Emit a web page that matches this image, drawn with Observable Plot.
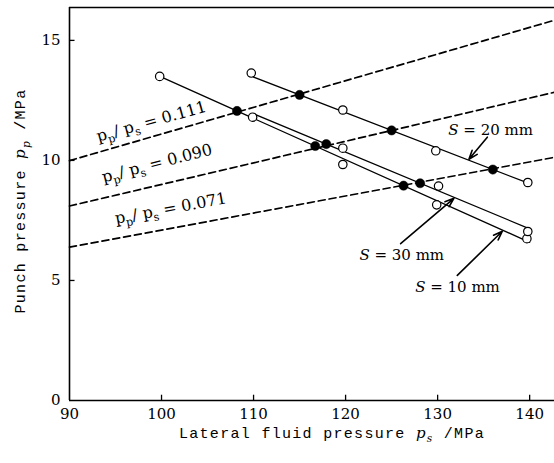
<!DOCTYPE html>
<html><head><meta charset="utf-8">
<script src="https://cdn.jsdelivr.net/npm/d3@7"></script>
<script src="https://cdn.jsdelivr.net/npm/@observablehq/plot@0.6"></script>
<style>body{margin:0;background:#fff}</style>
</head><body><div id="chart"></div>
<script>
// ---- axes ----
const xTicks = [90, 100, 110, 120, 130, 140];
const yTicks = [0, 5, 10, 15];
const xDomain = [90, 142.7];
const yDomain = [0, 16.37];
const xTitle = "Lateral fluid pressure *p*_{*s*} /MPa";
const yTitle = "Punch pressure *p*_{*p*} /MPa";

// ---- S = 20 mm ----
const s20OpenX = [109.75, 119.7, 129.8, 139.8];
const s20OpenY = [13.64, 12.10, 10.40, 9.08];
const s20FillX = [115.0, 125.0, 136.0];
const s20FillY = [12.73, 11.25, 9.62];
const s20LineX = [110, 140];
const s20LineY = [13.47, 9.03];

// ---- S = 10 mm ----
const s10OpenX = [99.8, 119.7, 129.9, 139.7];
const s10OpenY = [13.50, 9.83, 8.15, 6.74];
const s10FillX = [108.2, 116.7, 126.3];
const s10FillY = [12.06, 10.60, 8.95];
const s10LineX = [100, 140];
const s10LineY = [13.47, 6.59];

// ---- S = 30 mm ----
const s30OpenX = [109.9, 119.7, 130.1, 139.8];
const s30OpenY = [11.80, 10.51, 8.93, 7.04];
const s30FillX = [117.9, 128.1];
const s30FillY = [10.68, 9.05];
const s30LineX = [110, 140];
const s30LineY = [11.94, 7.15];

// ---- constant ratio lines p_p / p_s ----
const ratios = ["0.111", "0.090", "0.071"];
const dashX = [90, 142.7];
const dash111Y = [9.99, 15.84];
const dash090Y = [8.10, 12.84];
const dash071Y = [6.39, 10.13];
const ratioLabelX = [98.9, 99.5, 101.0];
const ratioLabelY = [11.62, 9.88, 8.0];
const ratioLabelAngle = [-15.6, -14.5, -10.5];

// ---- series labels and arrows ----
const seriesNames = ["20", "30", "10"];
const seriesLabelX = [135.76, 126.1, 132.16];
const seriesLabelY = [11.25, 6.04, 4.72];
const arrowFromX = [135.40, 125.98, 132.14];
const arrowFromY = [10.97, 6.53, 5.21];
const arrowToX = [133.40, 131.77, 137.03];
const arrowToY = [10.05, 8.42, 7.05];

// build tables
const zip = (xs, ys, extra) => xs.map((x, i) => ({x, y: ys[i], ...extra}));
const openRows = [...zip(s20OpenX, s20OpenY), ...zip(s10OpenX, s10OpenY), ...zip(s30OpenX, s30OpenY)];
const fillRows = [...zip(s20FillX, s20FillY), ...zip(s10FillX, s10FillY), ...zip(s30FillX, s30FillY)];
const lineRows = [...zip(s20LineX, s20LineY, {s: "20"}), ...zip(s10LineX, s10LineY, {s: "10"}), ...zip(s30LineX, s30LineY, {s: "30"})];
const dashRows = [...zip(dashX, dash111Y, {r: ratios[0]}), ...zip(dashX, dash090Y, {r: ratios[1]}), ...zip(dashX, dash071Y, {r: ratios[2]})];
const ratioLabelRows = ratios.map((r, i) => ({x: ratioLabelX[i], y: ratioLabelY[i], a: ratioLabelAngle[i], t: `p_{p}/ p_{s} = ${r}`}));
const seriesLabelRows = seriesNames.map((n, i) => ({x: seriesLabelX[i], y: seriesLabelY[i], t: `*S* = ${n} mm`}));
const arrowRows = seriesNames.map((n, i) => ({x1: arrowFromX[i], y1: arrowFromY[i], x2: arrowToX[i], y2: arrowToY[i]}));

const plot = Plot.plot({
  width: 554, height: 463,
  marginLeft: 69, marginRight: 0, marginTop: 7, marginBottom: 63,
  style: {fontFamily: "'DejaVu Serif', serif", fontSize: "15px", color: "black", background: "white"},
  x: {domain: xDomain, label: null},
  y: {domain: yDomain, label: null},
  marks: [
    Plot.line(dashRows, {x: "x", y: "y", z: "r", stroke: "black", strokeWidth: 1.7, strokeDasharray: "7,4"}),
    Plot.line(lineRows, {x: "x", y: "y", z: "s", stroke: "black", strokeWidth: 1.3}),
    Plot.dot(openRows, {x: "x", y: "y", r: 4.2, fill: "white", stroke: "black", strokeWidth: 1.2}),
    Plot.dot(fillRows, {x: "x", y: "y", r: 4.6, fill: "black", stroke: "black", strokeWidth: 0.5}),
    Plot.arrow(arrowRows, {x1: "x1", y1: "y1", x2: "x2", y2: "y2", stroke: "black", strokeWidth: 1.6, headLength: 9, headAngle: 40}),
    Plot.text(ratioLabelRows, {x: "x", y: "y", text: "t", rotate: "a", fontSize: 16, fill: "black"}),
    Plot.text(seriesLabelRows, {x: "x", y: "y", text: "t", fontSize: 15, fill: "black"}),
    Plot.ruleX([xDomain[0]], {stroke: "black", strokeWidth: 1.6}),
    Plot.ruleY([yDomain[0]], {stroke: "black", strokeWidth: 1.6}),
    Plot.ruleY([yDomain[1]], {stroke: "black", strokeWidth: 1.6}),
    Plot.ruleX(xTicks.slice(1), {y1: yDomain[0], y2: 0.22, stroke: "black", strokeWidth: 1.3}),
    Plot.ruleY(yTicks.slice(1), {x1: xDomain[0], x2: 90.6, stroke: "black", strokeWidth: 1.3}),
    Plot.axisX({ticks: xTicks, tickSize: 0, tickPadding: 8, label: null}),
    Plot.axisY({ticks: yTicks, tickSize: 0, tickPadding: 9, label: null}),
    Plot.text([xTitle], {frameAnchor: "bottom", textAnchor: "middle", dx: 20, dy: 37, fontFamily: "'Liberation Mono', monospace", fontSize: 15, fill: "black"}),
    Plot.text([yTitle], {frameAnchor: "left", textAnchor: "middle", rotate: -90, dx: -49, dy: -3, fontFamily: "'Liberation Mono', monospace", fontSize: 15, fill: "black"})
  ]
});
document.getElementById("chart").appendChild(plot);

// rich text: _{..} subscript, *..* italic
const NS = "http://www.w3.org/2000/svg";
function rich(el) {
  const s = el.textContent;
  if (!/_\{|\*/.test(s)) return;
  const fs = parseFloat(getComputedStyle(el).fontSize) || 15;
  while (el.firstChild) el.removeChild(el.firstChild);
  const re = /_\{([^}]*)\}|\*([^*]*)\*|([^_*]+)/g;
  let m, lowered = false;
  const add = (str, italic, sub) => {
    const t = document.createElementNS(NS, "tspan");
    t.textContent = str;
    if (italic) { t.setAttribute("font-style", "italic"); t.setAttribute("font-family", "'DejaVu Serif', serif"); }
    if (sub) {
      t.setAttribute("font-size", (fs * 0.7).toFixed(1));
      if (!lowered) { t.setAttribute("dy", (fs * 0.28).toFixed(1)); lowered = true; }
    } else if (lowered) {
      t.setAttribute("dy", (-fs * 0.28).toFixed(1)); lowered = false;
    }
    el.appendChild(t);
  };
  while ((m = re.exec(s))) {
    if (m[1] !== undefined) {
      const inner = m[1];
      const it = /^\*.*\*$/.test(inner);
      add(it ? inner.slice(1, -1) : inner, it, true);
    } else if (m[2] !== undefined) add(m[2], true, false);
    else add(m[3], false, false);
  }
}
d3.select(plot).selectAll("text").each(function () {
  const s = this.textContent;
  if (s.startsWith("Lateral") || s.startsWith("Punch")) this.setAttribute("letter-spacing", "1.3");
  rich(this);
});
</script>
</body></html>
